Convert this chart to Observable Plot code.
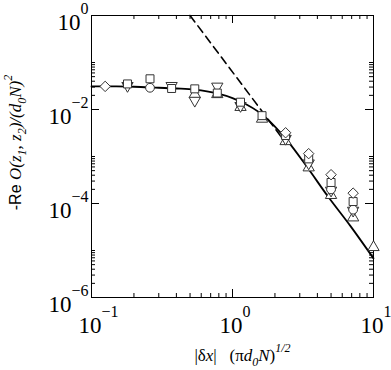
<!DOCTYPE html>
<html><head><meta charset="utf-8">
<script src="https://cdn.jsdelivr.net/npm/d3@7"></script>
<script src="https://cdn.jsdelivr.net/npm/@observablehq/plot@0.6"></script>
<style>html,body{margin:0;padding:0;background:#fff;} svg{display:block;}</style>
</head><body><div id="chart"></div>
<script>
// ---- data ----
const curveX = [0.1, 0.15, 0.2, 0.3, 0.4, 0.54, 0.78, 1.0, 1.14, 1.62, 2.0, 2.44, 3.39, 4.7, 6.87, 10];
const curveY = [0.031, 0.031, 0.0305, 0.029, 0.028, 0.0265, 0.022, 0.0175, 0.0148, 0.0078, 0.0043, 0.0022, 0.00059, 0.000148, 0.000033, 0.0000068];
const dashX = [0.5, 2.2];
const dashY = [1, 0.0027];

const diamondX = [0.125, 2.38, 3.47, 5.0, 7.17];
const diamondY = [0.031, 0.0032, 0.00115, 0.00041, 0.000166];
const squareX = [0.18, 0.26, 0.37, 0.54, 0.78, 1.14, 1.62, 2.38, 3.47, 5.0, 7.17];
const squareY = [0.035, 0.045, 0.028, 0.0275, 0.0224, 0.0143, 0.0074, 0.0028, 0.00089, 0.00028, 0.00011];
const circleX = [0.26, 5.0, 7.17];
const circleY = [0.029, 0.0002, 0.000074];
const triDownX = [0.18, 0.37, 0.54, 0.78, 1.14, 2.38, 3.47, 5.0, 7.17];
const triDownY = [0.032, 0.032, 0.0155, 0.031, 0.012, 0.0024, 0.00072, 0.00019, 0.000071];
const triUpX = [0.54, 0.78, 1.14, 1.62, 2.38, 3.47, 5.0, 7.17, 10];
const triUpY = [0.021, 0.021, 0.0112, 0.0063, 0.0021, 0.00058, 0.00015, 0.00005, 0.0000117];

// ticks
const xMajor = [0.1, 1, 10];
const xMinor = [0.2, 0.3, 0.4, 0.5, 0.6, 0.7, 0.8, 0.9, 2, 3, 4, 5, 6, 7, 8, 9];
const yMajor = [1e-6, 1e-4, 1e-2, 1];
const yMinor = [2e-6, 3e-6, 4e-6, 5e-6, 6e-6, 7e-6, 8e-6, 9e-6, 1e-5,
                2e-4, 3e-4, 4e-4, 5e-4, 6e-4, 7e-4, 8e-4, 9e-4, 1e-3,
                2e-2, 3e-2, 4e-2, 5e-2, 6e-2, 7e-2, 8e-2, 9e-2, 1e-1];
const xTickVals = [0.1, 1, 10];
const xTickExps = ["\u22121", "0", "1"];
const yTickVals = [1, 1e-2, 1e-4, 1e-6];
const yTickExps = ["0", "\u22122", "\u22124", "\u22126"];

// ---- layout ----
const W = 391, H = 370;
const M = {top: 15, right: 18, bottom: 73, left: 91};
const innerW = W - M.left - M.right, innerH = H - M.top - M.bottom;
const SERIF = "'Liberation Serif', 'Times New Roman', serif";
const SANS = "'Liberation Sans', Arial, sans-serif";
const MS = "#333";

const pts = (xs, ys) => xs.map((x, i) => ({x, y: ys[i]}));

const triDownSym = {
  draw(ctx, size) {
    const s3 = Math.sqrt(3);
    const y = -Math.sqrt(size / (s3 * 3));
    ctx.moveTo(0, -y * 2);
    ctx.lineTo(-s3 * y, y);
    ctx.lineTo(s3 * y, y);
    ctx.closePath();
  }
};

const majLen = 8, minLen = 4;
const tickMarks = (vals, len) => [
  Plot.ruleX(vals, {x: d => d, insetTop: innerH - len, stroke: "#000"}),
  Plot.ruleX(vals, {x: d => d, insetBottom: innerH - len, stroke: "#000"}),
];
const tickMarksY = (vals, len) => [
  Plot.ruleY(vals, {y: d => d, insetRight: innerW - len, stroke: "#000"}),
  Plot.ruleY(vals, {y: d => d, insetLeft: innerW - len, stroke: "#000"}),
];

const plot = Plot.plot({
  width: W, height: H,
  marginTop: M.top, marginRight: M.right, marginBottom: M.bottom, marginLeft: M.left,
  x: {type: "log", domain: [0.1, 10], axis: null},
  y: {type: "log", domain: [1e-6, 1], axis: null},
  style: {background: "#fff", overflow: "visible"},
  marks: [
    ...tickMarks(xMinor, minLen), ...tickMarks(xMajor, majLen),
    ...tickMarksY(yMinor, minLen), ...tickMarksY(yMajor, majLen),
    Plot.frame({stroke: "#000", strokeWidth: 1}),
    Plot.line(pts(dashX, dashY), {x: "x", y: "y", stroke: "#000", strokeWidth: 1.6, strokeDasharray: "8,5"}),
    Plot.line(pts(curveX, curveY), {x: "x", y: "y", stroke: "#000", strokeWidth: 1.8, curve: "monotone-x"}),
    Plot.dot(pts(triUpX, triUpY), {x: "x", y: "y", symbol: "triangle", r: 4.2, fill: "#fff", stroke: MS, strokeWidth: 1}),
    Plot.dot(pts(triDownX, triDownY), {x: "x", y: "y", symbol: triDownSym, r: 4.2, fill: "#fff", stroke: MS, strokeWidth: 1}),
    Plot.dot(pts(circleX, circleY), {x: "x", y: "y", symbol: "circle", r: 4.4, fill: "#fff", stroke: MS, strokeWidth: 1}),
    Plot.dot(pts(squareX, squareY), {x: "x", y: "y", symbol: "square", r: 4.5, fill: "#fff", stroke: MS, strokeWidth: 1}),
    Plot.dot(pts(diamondX, diamondY), {x: "x", y: "y", symbol: "diamond2", r: 4.7, fill: "#fff", stroke: MS, strokeWidth: 1}),
    // tick labels
    Plot.text(yTickVals, {y: d => d, text: (d, i) => "10^" + yTickExps[i], frameAnchor: "left",
      textAnchor: "end", lineAnchor: "bottom", dx: -3, dy: 14, fontSize: 23, fontFamily: SERIF, fill: "#000"}),
    Plot.text(xTickVals, {x: d => d, text: (d, i) => "10^" + xTickExps[i], frameAnchor: "bottom",
      textAnchor: "start", lineAnchor: "bottom", dx: -13, dy: 35, fontSize: 23, fontFamily: SERIF, fill: "#000"}),
    // axis titles (placeholders, turned into rich text below)
    Plot.text(["@ylab"], {text: d => d, frameAnchor: "left", rotate: -90, textAnchor: "middle", lineAnchor: "bottom",
      dx: -71, dy: -14, fontSize: 17, fontFamily: SERIF, fill: "#000"}),
    Plot.text(["@xlab"], {text: d => d, frameAnchor: "bottom", textAnchor: "middle", lineAnchor: "bottom",
      dx: 10, dy: 63, fontSize: 17, fontFamily: SERIF, fill: "#000"}),
  ]
});

document.getElementById("chart").appendChild(plot);

// ---- rich text (super/subscripts) ----
const NS = "http://www.w3.org/2000/svg";
function rich(el, segs) {
  el.textContent = "";
  let shift = 0;
  for (const s of segs) {
    const t = document.createElementNS(NS, "tspan");
    t.textContent = s.t;
    const target = s.sup ? -s.sup : (s.sub || 0);
    if (target !== shift) { t.setAttribute("dy", String(target - shift)); shift = target; }
    if (s.size) t.setAttribute("font-size", s.size);
    if (s.italic) t.setAttribute("font-style", "italic");
    if (s.family) t.setAttribute("font-family", s.family);
    el.appendChild(t);
  }
}
plot.querySelectorAll("text").forEach(el => {
  const c = el.textContent;
  if (c.startsWith("10^")) {
    const [base, exp] = c.split("^");
    rich(el, [{t: base}, {t: exp, sup: 16, size: 16}]);
  } else if (c === "@ylab") {
    rich(el, [
      {t: "-Re ", family: SANS, size: 16},
      {t: "O(z", italic: true},
      {t: "1", italic: true, sub: 5, size: 12},
      {t: ", z", italic: true},
      {t: "2", italic: true, sub: 5, size: 12},
      {t: ")/(d", italic: true},
      {t: "0", italic: true, sub: 5, size: 12},
      {t: "N)", italic: true},
      {t: "2", italic: true, sup: 9, size: 12},
    ]);
  } else if (c === "@xlab") {
    rich(el, [
      {t: "|\u03B4"},
      {t: "x", italic: true},
      {t: "|\u2002 (\u03C0"},
      {t: "d", italic: true},
      {t: "0", italic: true, sub: 5, size: 12},
      {t: "N", italic: true},
      {t: ")"},
      {t: "1/2", italic: true, sup: 9, size: 12},
    ]);
  }
});
</script>
</body></html>
